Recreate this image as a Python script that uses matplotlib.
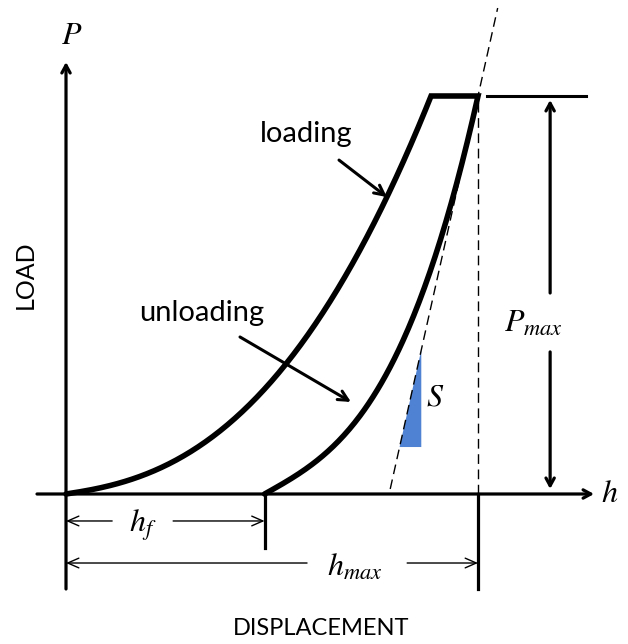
import matplotlib
matplotlib.use("Agg")
import matplotlib.pyplot as plt
import numpy as np

plt.rcParams['mathtext.fontset'] = 'stix'

# schematic values (normalised: h_max = 1, P_max = 1)
h_max = 1.0
P_max = 1.0
h_f = 0.482          # final depth after unloading
h_top = 0.886        # depth where loading reaches P_max
load_lin, load_exp = 0.14, 2.5     # loading curve shape
unload_lin, unload_exp = 0.30, 3.0  # unloading curve shape
S = (unload_lin + (1 - unload_lin) * unload_exp) / (h_max - h_f)  # contact stiffness
tri_P = [0.118, 0.362]              # blue slope triangle, load range

text_font = ['Lato', 'DejaVu Sans']
black = '#000000'

fig = plt.figure(figsize=(6.28, 6.44), dpi=100)
ax = fig.add_axes([0, 0, 1, 1])
ax.set_xlim(-0.1602, 1.364)
ax.set_ylim(-0.3769, 1.2412)
ax.axis('off')

# axes with arrows
axis_arrow = dict(arrowstyle='->,head_length=0.55,head_width=0.3',
                  lw=2.3, color=black, shrinkA=0, shrinkB=0)
ax.annotate('', xy=(0, 1.0854), xytext=(0, -0.2387), arrowprops=axis_arrow)
ax.annotate('', xy=(1.2816, 0), xytext=(-0.0704, 0), arrowprops=axis_arrow)
ax.text(0.0146, 1.153, '$P$', fontsize=23, ha='center', va='center')
ax.text(1.32, 0.0, '$h$', fontsize=23, ha='center', va='center')

# loading / hold / unloading curves
t = np.linspace(0, 1, 200)
h_load = h_top * t
P_load = P_max * (load_lin * t + (1 - load_lin) * t ** load_exp)
h_unl = h_f + (h_max - h_f) * t
P_unl = P_max * (unload_lin * t + (1 - unload_lin) * t ** unload_exp)
ax.plot(np.r_[h_load, h_max, h_unl[::-1]], np.r_[P_load, P_max, P_unl[::-1]],
        color=black, lw=4, solid_joinstyle='miter', solid_capstyle='round')

# tangent (dashed) and vertical at h_max
P_tan = np.array([0.0126, 1.221])
ax.plot(h_max + (P_tan - P_max) / S, P_tan, color=black, lw=1, ls=(0, (7, 4)))
ax.plot([h_max, h_max], [0, P_max], color=black, lw=1, ls=(0, (7, 4)))

# slope triangle
tri_h = h_max + (np.array(tri_P) - P_max) / S
ax.fill([tri_h[0], tri_h[1], tri_h[1]], [tri_P[0], tri_P[1], tri_P[0]],
        color='#4f82d2', lw=0)
ax.text(0.895, 0.244, '$S$', fontsize=23, ha='center', va='center')

# P_max marker
ax.plot([1.022, 1.262], [P_max, P_max], color=black, lw=2.2)
ax.annotate('', xy=(1.175, 0.990), xytext=(1.175, 0.505), arrowprops=axis_arrow)
ax.annotate('', xy=(1.175, 0.0126), xytext=(1.175, 0.357), arrowprops=axis_arrow)
ax.text(1.134, 0.43, '$P_{max}$', fontsize=23, ha='center', va='center')

# ticks below axis
ax.plot([h_f, h_f], [0, -0.1357], color=black, lw=2.3)
ax.plot([h_max, h_max], [0, -0.2387], color=black, lw=2.3)

# dimension lines
dim = dict(arrowstyle='->,head_length=0.8,head_width=0.35', lw=1,
           color=black, shrinkA=0, shrinkB=0)
y_hf = -0.0678
ax.annotate('', xy=(0, y_hf), xytext=(0.112, y_hf), arrowprops=dim)
ax.annotate('', xy=(h_f, y_hf), xytext=(0.26, y_hf), arrowprops=dim)
ax.text(0.187, y_hf - 0.012, '$h_f$', fontsize=23, ha='center', va='center')
y_hm = -0.1734
ax.annotate('', xy=(0, y_hm), xytext=(0.585, y_hm), arrowprops=dim)
ax.annotate('', xy=(h_max, y_hm), xytext=(0.828, y_hm), arrowprops=dim)
ax.text(0.701, y_hm - 0.012, '$h_{max}$', fontsize=23, ha='center', va='center')

# labels
ax.text(0.62, -0.3367, 'DISPLACEMENT', fontsize=17, family=text_font,
        ha='center', va='center')
ax.text(-0.099, 0.55, 'LOAD', fontsize=18, family=text_font, rotation=90,
        ha='center', va='center')
ax.text(0.5825, 0.905, 'loading', fontsize=21, family=text_font,
        ha='center', va='center')
ax.text(0.33, 0.455, 'unloading', fontsize=21, family=text_font,
        ha='center', va='center')

ann = dict(arrowstyle='->,head_length=0.7,head_width=0.35', lw=2.2,
           color=black, shrinkA=0, shrinkB=0)
ax.annotate('', xy=(0.779, 0.746), xytext=(0.6626, 0.839), arrowprops=ann)
ax.annotate('', xy=(0.6917, 0.2312), xytext=(0.4223, 0.3945), arrowprops=ann)

fig.savefig('out.png', dpi=100)
